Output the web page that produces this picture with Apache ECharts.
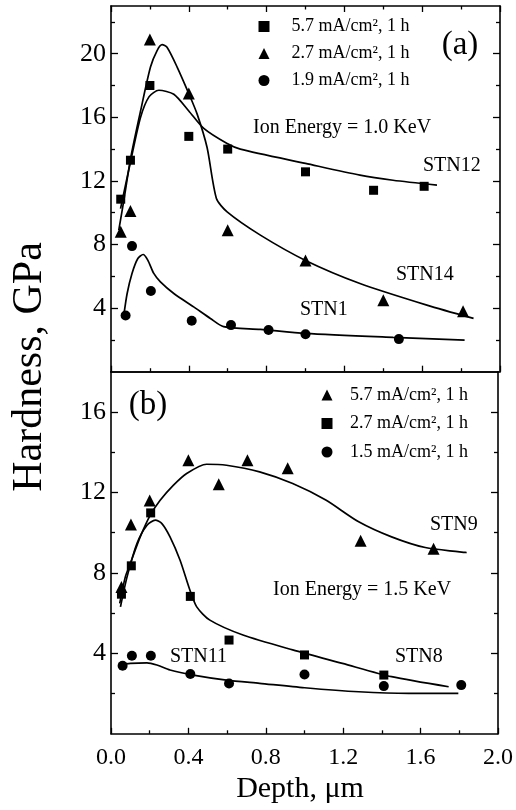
<!DOCTYPE html>
<html>
<head>
<meta charset="utf-8">
<script src="https://cdn.jsdelivr.net/npm/echarts@6/dist/echarts.min.js"></script>
<style>html,body{margin:0;padding:0;background:#fff;}#c{width:516px;height:810px;}</style>
</head>
<body>
<div id="c"></div>
<script>
// ---------- Panel (a): Ion Energy = 1.0 KeV ----------
const aSTN12Depth = [0.05, 0.10, 0.20, 0.40, 0.60, 1.00, 1.35, 1.61];
const aSTN12Hard  = [10.85, 13.3, 18.0, 14.8, 14.0, 12.57, 11.41, 11.66];
const aSTN14Depth = [0.05, 0.10, 0.20, 0.40, 0.60, 1.00, 1.40, 1.81];
const aSTN14Hard  = [8.8, 10.1, 20.9, 17.5, 8.9, 7.0, 4.5, 3.8];
const aSTN1Depth  = [0.075, 0.108, 0.205, 0.415, 0.617, 0.81, 1.00, 1.48];
const aSTN1Hard   = [3.54, 7.9, 5.07, 3.2, 2.93, 2.62, 2.35, 2.05];

const aSTN12FitDepth = [0.049, 0.102, 0.152, 0.196, 0.246, 0.323, 0.40, 0.477, 0.597, 0.665, 1.00, 1.28, 1.45, 1.676];
const aSTN12FitHard  = [10.26, 13.3, 16.0, 17.3, 17.7, 17.45, 16.4, 15.3, 14.35, 14.0, 13.1, 12.36, 12.04, 11.73];
const aSTN14FitDepth = [0.04, 0.066, 0.102, 0.152, 0.203, 0.237, 0.263, 0.288, 0.34, 0.40, 0.443, 0.494, 0.542, 0.597, 0.768, 1.00, 1.28, 1.624, 1.864];
const aSTN14FitHard  = [8.9, 10.78, 13.5, 16.4, 19.16, 20.2, 20.57, 20.4, 19.16, 17.49, 16.2, 14.1, 10.9, 10.05, 8.59, 7.0, 5.55, 4.19, 3.35];
const aSTN1FitDepth  = [0.066, 0.083, 0.108, 0.138, 0.165, 0.189, 0.22, 0.254, 0.323, 0.425, 0.511, 0.579, 0.768, 1.00, 1.45, 1.818];
const aSTN1FitHard   = [3.56, 4.92, 6.18, 7.12, 7.37, 7.02, 6.18, 5.65, 4.92, 4.08, 3.35, 2.83, 2.66, 2.41, 2.16, 1.99];

// ---------- Panel (b): Ion Energy = 1.5 KeV ----------
const bSTN9Depth  = [0.054, 0.103, 0.20, 0.40, 0.557, 0.705, 0.913, 1.29, 1.667];
const bSTN9Hard   = [7.3, 10.4, 11.6, 13.6, 12.4, 13.6, 13.2, 9.6, 9.2];
const bSTN8Depth  = [0.054, 0.105, 0.205, 0.41, 0.61, 1.00, 1.41];
const bSTN8Hard   = [6.94, 8.35, 10.98, 6.83, 4.66, 3.92, 2.92];
const bSTN11Depth = [0.06, 0.108, 0.206, 0.41, 0.61, 1.00, 1.41, 1.81];
const bSTN11Hard  = [3.38, 3.88, 3.88, 2.97, 2.5, 2.95, 2.37, 2.42];

const bSTN9FitDepth  = [0.045, 0.074, 0.10, 0.151, 0.203, 0.254, 0.323, 0.391, 0.494, 0.597, 0.768, 0.939, 1.11, 1.28, 1.45, 1.624, 1.838];
const bSTN9FitHard   = [6.48, 7.8, 8.47, 9.79, 10.87, 11.61, 12.36, 12.94, 13.4, 13.35, 13.02, 12.44, 11.62, 10.54, 9.79, 9.26, 9.01];
const bSTN8FitDepth  = [0.049, 0.083, 0.134, 0.186, 0.229, 0.263, 0.305, 0.357, 0.408, 0.443, 0.511, 0.682, 0.939, 1.196, 1.45, 1.745];
const bSTN8FitHard   = [6.31, 7.8, 9.46, 10.37, 10.62, 10.45, 9.79, 8.63, 7.14, 6.31, 5.65, 4.91, 4.17, 3.5, 2.84, 2.34];
const bSTN11FitDepth = [0.04, 0.10, 0.186, 0.237, 0.305, 0.425, 0.597, 0.768, 1.00, 1.28, 1.54, 1.795];
const bSTN11FitHard  = [3.42, 3.5, 3.53, 3.42, 3.17, 2.92, 2.67, 2.51, 2.29, 2.09, 2.01, 2.01];

// ---------- axes / labels ----------
const xMin = 0, xMax = 2.0, xStep = 0.4;
const yMaxA = 23, yMaxB = 18;
const yMajorA = [4, 8, 12, 16, 20], yMinorA = [2, 6, 10, 14, 18, 22];
const yMajorB = [4, 8, 12, 16],     yMinorB = [2, 6, 10, 14];
const legendA = {STN12: '5.7 mA/cm², 1 h', STN14: '2.7 mA/cm², 1 h', STN1: '1.9 mA/cm², 1 h'};
const legendB = {STN9: '5.7 mA/cm², 1 h', STN8: '2.7 mA/cm², 1 h', STN11: '1.5 mA/cm², 1 h'};

const FONT = '"Liberation Serif", "Times New Roman", serif';
const BLACK = '#000';

function zip(xs, ys) { return xs.map((x, i) => [x, ys[i]]); }

function xAxesFor(g, showLabels, topTicks) {
  const base = {
    type: 'value', gridIndex: g, min: xMin, max: xMax, interval: xStep,
    splitLine: {show: false},
    axisLine: {show: true, onZero: false, lineStyle: {color: BLACK, width: 1.6}},
  };
  return [
    Object.assign({}, base, {
      position: 'bottom',
      axisTick: {show: true, inside: true, length: 6, lineStyle: {color: BLACK, width: 1.3}},
      minorTick: {show: true, splitNumber: 2, length: 3.5, lineStyle: {color: BLACK, width: 1.3}},
      axisLabel: {show: showLabels, margin: 12, color: BLACK, fontFamily: FONT, fontSize: 24,
                  formatter: v => v.toFixed(1)}
    }),
    Object.assign({}, base, {
      position: 'top',
      axisTick: {show: topTicks, inside: true, length: 6, lineStyle: {color: BLACK, width: 1.3}},
      minorTick: {show: topTicks, splitNumber: 2, length: 3.5, lineStyle: {color: BLACK, width: 1.3}},
      axisLabel: {show: false}
    })
  ];
}

function yAxesFor(g, max, majors, minors) {
  const base = {type: 'value', gridIndex: g, min: 0, max: max, splitLine: {show: false}};
  const mk = (pos, vals, len, line, labels) => Object.assign({}, base, {
    position: pos,
    axisLine: {show: line, onZero: false, lineStyle: {color: BLACK, width: 1.6}},
    axisTick: {show: true, inside: true, length: len, customValues: vals, lineStyle: {color: BLACK, width: 1.3}},
    axisLabel: labels ? {show: true, customValues: vals, margin: 5, color: BLACK, fontFamily: FONT, fontSize: 26}
                      : {show: false}
  });
  return [
    mk('left', majors, 7, true, true),
    mk('left', minors, 4, false, false),
    mk('right', majors, 7, true, false),
    mk('right', minors, 4, false, false)
  ];
}

function pts(name, xs, ys, symbol, size, xi, yi) {
  return {name, type: 'scatter', xAxisIndex: xi, yAxisIndex: yi, data: zip(xs, ys),
          symbol, symbolSize: size, itemStyle: {color: BLACK, opacity: 1}, z: 5,
          emphasis: {disabled: true}};
}
function fit(name, xs, ys, xi, yi) {
  return {name: name + ' fit', type: 'line', xAxisIndex: xi, yAxisIndex: yi, data: zip(xs, ys),
          showSymbol: false, symbol: 'none', smooth: 0.25, lineStyle: {color: BLACK, width: 1.7, opacity: 1}, z: 3,
          emphasis: {disabled: true}};
}

const legendCommon = {
  orient: 'vertical', padding: 0, itemWidth: 11, itemHeight: 11,
  selectedMode: false, inactiveColor: BLACK,
  itemStyle: {color: BLACK, opacity: 1, borderWidth: 0}
};

const txt = (text, x, y, size, align) => ({
  type: 'text', x, y,
  style: {text, fill: BLACK, font: size + 'px ' + FONT, textAlign: align || 'left', textVerticalAlign: 'middle'}
});

const option = {
  backgroundColor: '#fff',
  animation: false,
  grid: [
    {left: 111, top: 6, width: 389, height: 365.7},
    {left: 111, top: 371.7, width: 389, height: 362.1}
  ],
  xAxis: [...xAxesFor(0, false, true), ...xAxesFor(1, true, false)],
  yAxis: [...yAxesFor(0, yMaxA, yMajorA, yMinorA), ...yAxesFor(1, yMaxB, yMajorB, yMinorB)],
  legend: [
    Object.assign({}, legendCommon, {
      left: 258.5, top: 17.5, itemGap: 9,
      data: Object.keys(legendA),
      formatter: n => legendA[n],
      textStyle: {color: BLACK, fontFamily: FONT, fontSize: 18, lineHeight: 18, padding: [0, 0, 0, 17]}
    }),
    Object.assign({}, legendCommon, {
      left: 321.5, top: 386, itemGap: 10.5,
      data: Object.keys(legendB),
      formatter: n => legendB[n],
      textStyle: {color: BLACK, fontFamily: FONT, fontSize: 18, lineHeight: 18, padding: [0, 0, 0, 12.5]}
    })
  ],
  series: [
    fit('STN12', aSTN12FitDepth, aSTN12FitHard, 0, 0),
    fit('STN14', aSTN14FitDepth, aSTN14FitHard, 0, 0),
    fit('STN1',  aSTN1FitDepth,  aSTN1FitHard,  0, 0),
    pts('STN12', aSTN12Depth, aSTN12Hard, 'rect', 9, 0, 0),
    pts('STN14', aSTN14Depth, aSTN14Hard, 'triangle', 12, 0, 0),
    pts('STN1',  aSTN1Depth,  aSTN1Hard,  'circle', 10, 0, 0),
    fit('STN9',  bSTN9FitDepth,  bSTN9FitHard,  2, 4),
    fit('STN8',  bSTN8FitDepth,  bSTN8FitHard,  2, 4),
    fit('STN11', bSTN11FitDepth, bSTN11FitHard, 2, 4),
    pts('STN9',  bSTN9Depth,  bSTN9Hard,  'triangle', 12, 2, 4),
    pts('STN8',  bSTN8Depth,  bSTN8Hard,  'rect', 9, 2, 4),
    pts('STN11', bSTN11Depth, bSTN11Hard, 'circle', 10, 2, 4)
  ],
  graphic: [
    txt('(a)', 460, 45, 33, 'center'),
    txt('Ion Energy = 1.0 KeV', 253, 128, 20),
    txt('STN12', 423, 166, 20),
    txt('STN14', 396, 275, 20),
    txt('STN1', 300, 310, 20),
    txt('(b)', 148, 405, 33, 'center'),
    txt('STN9', 430, 525, 20),
    txt('Ion Energy = 1.5 KeV', 273, 590, 20),
    txt('STN11', 170, 657, 20),
    txt('STN8', 395, 657, 20),
    txt('Depth, μm', 300, 789, 30, 'center'),
    Object.assign(txt('Hardness, GPa', 0, 0, 42, 'center'), {x: 30, y: 367, rotation: Math.PI / 2})
  ]
};

const chart = echarts.init(document.getElementById('c'), null, {renderer: 'canvas'});
chart.setOption(option);
</script>
</body>
</html>
